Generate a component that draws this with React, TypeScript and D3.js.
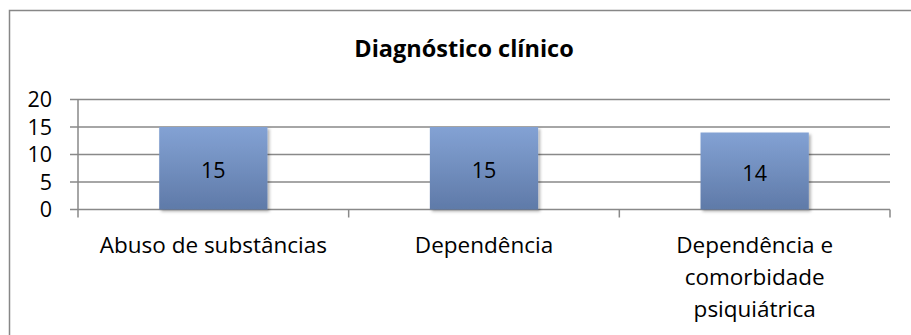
import React from "react";
import * as d3 from "d3";

const categories: string[][] = [
  ["Abuso de substâncias"],
  ["Dependência"],
  ["Dependência e", "comorbidade", "psiquiátrica"],
];
const values: number[] = [15, 15, 14];
const yTicks: number[] = [0, 5, 10, 15, 20];
const title = "Diagnóstico clínico";

const W = 911;
const H = 335;
const FONT = "'Open Sans', 'Noto Sans', sans-serif";

export default function App() {
  const left = 78;
  const right = 890;
  const top = 99.5;
  const bottom = 209.5;
  const keys = categories.map((c) => c.join(" "));
  const x = d3.scaleBand<string>().domain(keys).range([left, right]).paddingInner(0.6).paddingOuter(0.3);
  const y = d3.scaleLinear().domain([0, 20]).range([bottom, top]);
  const step = x.step();
  const boundaries = d3.range(keys.length + 1).map((i) => left + i * step);
  const axisColor = "#898989";

  return (
    <svg width={W} height={H} style={{ position: "absolute", left: 0, top: 0 }} fontFamily={FONT}>
      <defs>
        <linearGradient id="barGrad" x1="0" y1="0" x2="0" y2="1">
          <stop offset="0%" stopColor="#83a2d4" />
          <stop offset="100%" stopColor="#5f7aa8" />
        </linearGradient>
        <filter id="shadow" x="-10%" y="-10%" width="130%" height="130%">
          <feDropShadow dx="2" dy="2" stdDeviation="1.5" floodColor="#000" floodOpacity="0.3" />
        </filter>
      </defs>
      <rect x={0} y={0} width={W} height={H} fill="#fff" />
      <rect x={9.5} y={10.5} width={1000} height={500} fill="#fff" stroke="#878787" strokeWidth={1.5} />
      <text x={464} y={57} textAnchor="middle" fontSize={23.5} fontWeight="bold" fill="#000">
        {title}
      </text>
      {yTicks.map((t) => (
        <g key={t}>
          <line x1={70} x2={right} y1={y(t)} y2={y(t)} stroke={axisColor} strokeWidth={1.5} />
          <text x={52} y={y(t)} dy="0.36em" textAnchor="end" fontSize={21.5} fill="#000">
            {t}
          </text>
        </g>
      ))}
      <line x1={left} x2={left} y1={y(20)} y2={y(0) + 8} stroke={axisColor} strokeWidth={1.5} />
      {boundaries.slice(1).map((b, i) => (
        <line key={i} x1={b} x2={b} y1={y(0)} y2={y(0) + 8} stroke={axisColor} strokeWidth={1.5} />
      ))}
      {keys.map((k, i) => (
        <g key={k}>
          <rect
            x={x(k)}
            y={y(values[i])}
            width={x.bandwidth()}
            height={y(0) - y(values[i])}
            fill="url(#barGrad)"
            filter="url(#shadow)"
          />
          <text
            x={(x(k) as number) + x.bandwidth() / 2}
            y={(y(values[i]) + y(0)) / 2 + 2}
            dy="0.36em"
            textAnchor="middle"
            fontSize={21.5}
            fill="#000"
          >
            {values[i]}
          </text>
          {categories[i].map((line, j) => (
            <text
              key={j}
              x={(x(k) as number) + x.bandwidth() / 2}
              y={253 + j * 32}
              textAnchor="middle"
              fontSize={22.5}
              fill="#000"
            >
              {line}
            </text>
          ))}
        </g>
      ))}
    </svg>
  );
}
